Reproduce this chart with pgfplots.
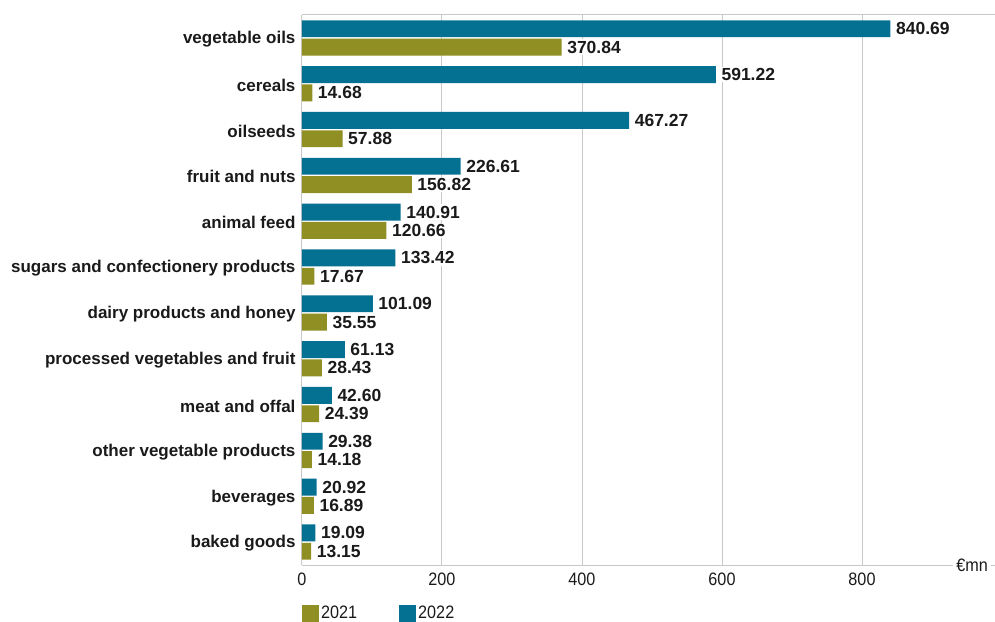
\documentclass[border=0pt]{standalone}
\usepackage{fontspec}
\setmainfont{Liberation Sans}
\newfontfamily\condfont[FakeStretch=0.9]{Liberation Sans}
\usepackage{pgfplots}
\pgfplotsset{compat=1.18}
\definecolor{cblue}{RGB}{4,112,146}
\definecolor{colive}{RGB}{143,143,36}
\definecolor{cgrid}{RGB}{200,200,200}
\definecolor{ctext}{RGB}{26,26,26}
\begin{document}
\begin{tikzpicture}
\useasboundingbox (-302pt,-56pt) rectangle (693pt,565pt);
\begin{axis}[
  at={(0,0)}, anchor=south west,
  scale only axis, width=693pt, height=550pt,
  xbar, bar width=0.37,
  xmin=0, xmax=990, ymin=-0.5, ymax=11.5,
  enlargelimits=false,
  axis lines=left,
  axis line style={-, draw=cgrid, line width=1pt},
  xmajorgrids, grid style={cgrid, line width=1pt},
  major tick length=0pt,
  xtick={0,200,400,600,800},
  ytick={0,...,11},
  yticklabels={baked goods, beverages, other vegetable products, meat and offal\hspace{3pt}, processed vegetables and fruit, dairy products and honey, sugars and confectionery products, animal feed\hspace{4pt}, fruit and nuts, oilseeds, cereals\hspace{5pt}, vegetable oils},
  /pgf/number format/assume math mode=true,
  xticklabel style={font=\condfont\fontsize{18}{18}\selectfont, text=ctext, yshift=-4pt},
  yticklabel style={font=\bfseries\fontsize{17}{17}\selectfont, text=ctext, xshift=-3pt, yshift=-1.5pt},
  nodes near coords={\pgfmathprintnumber[fixed,fixed zerofill,precision=2]{\pgfplotspointmeta}},
  every node near coord/.append style={font=\bfseries\fontsize{17.5}{17.5}\selectfont, text=ctext, fill=white, inner sep=1.5pt, xshift=4pt},
  legend style={at={(axis description cs:0,0)}, anchor=north west, yshift=-39pt, draw=none, inner sep=0pt,
    font=\condfont\fontsize{18}{18}\selectfont, text=ctext,
    /tikz/every even column/.append style={column sep=40pt}},
  legend columns=2,
  legend image code/.code={\fill[#1, draw=none] (0pt,-8.5pt) rectangle (17pt,8.5pt);},
  after end axis/.code={
    \draw[cgrid, line width=1pt] (rel axis cs:0,1) -- (rel axis cs:1,1);
    \node[fill=white, inner sep=3pt, font=\condfont\fontsize{18}{18}\selectfont, text=ctext] at (rel axis cs:0.967,0) {€mn};
  },
]
\addplot[fill=colive, draw=none, bar shift=-0.2] coordinates {
(13.15,0) (16.89,1) (14.18,2) (24.39,3) (28.43,4) (35.55,5) (17.67,6) (120.66,7) (156.82,8) (57.88,9) (14.68,10) (370.84,11)};
\addlegendentry{2021}
\addplot[fill=cblue, draw=none, bar shift=0.2] coordinates {
(19.09,0) (20.92,1) (29.38,2) (42.60,3) (61.13,4) (101.09,5) (133.42,6) (140.91,7) (226.61,8) (467.27,9) (591.22,10) (840.69,11)};
\addlegendentry{2022}
\end{axis}
\end{tikzpicture}
\end{document}
